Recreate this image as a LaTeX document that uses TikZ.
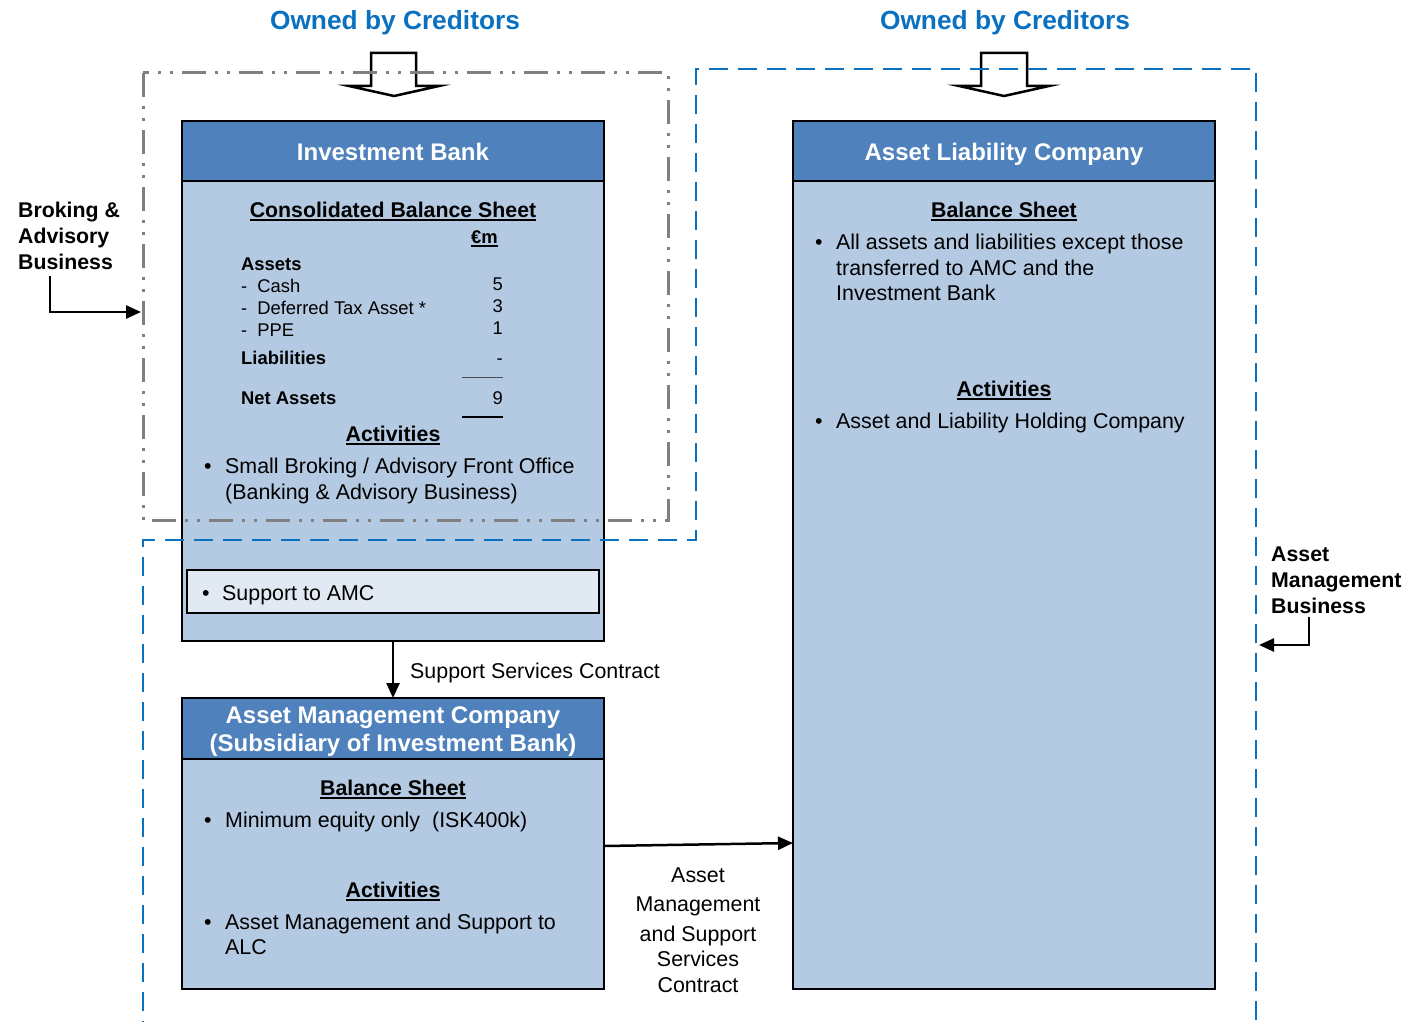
\documentclass[tikz,border=0pt]{standalone}
\usepackage{fontspec}
\setmainfont{Liberation Sans}
\usetikzlibrary{arrows.meta}
\definecolor{hdrblue}{HTML}{4F81BD}
\definecolor{bodyblue}{HTML}{B4C9E2}
\definecolor{innerblue}{HTML}{E1E9F3}
\definecolor{titleblue}{HTML}{0A70C0}
\definecolor{dashblue}{HTML}{0A70C0}
\definecolor{dashgray}{HTML}{808080}
\newcommand{\myul}[1]{\setbox0\hbox{#1}\rlap{\rule[-3.6pt]{\wd0}{2pt}}\box0}
\tikzset{
  boxbody/.style={draw=black, line width=2.5pt, fill=bodyblue, inner sep=0pt, outer sep=0pt, anchor=north west},
  boxhead/.style={draw=black, line width=2.5pt, fill=hdrblue, inner sep=0pt, outer sep=0pt, anchor=north west},
  innerbox/.style={draw=black, line width=2.5pt, fill=innerblue, inner sep=0pt, outer sep=0pt, anchor=north west},
  txt/.style={inner sep=0pt, anchor=base west, font=\fontsize{21.4}{25}\selectfont},
  txtc/.style={inner sep=0pt, anchor=base, font=\fontsize{21.4}{25}\selectfont},
  boldl/.style={inner sep=0pt, anchor=base west, font=\fontsize{21.3}{25}\selectfont\bfseries},
  boldc/.style={inner sep=0pt, anchor=base, font=\fontsize{21.3}{25}\selectfont\bfseries},
  small/.style={inner sep=0pt, anchor=base west, font=\fontsize{18.4}{22}\selectfont},
  smallb/.style={inner sep=0pt, anchor=base west, font=\fontsize{18.4}{22}\selectfont\bfseries},
  smallr/.style={inner sep=0pt, anchor=base east, font=\fontsize{18.4}{22}\selectfont},
  headtxt/.style={inner sep=0pt, anchor=base, text=white, font=\fontsize{24}{28}\selectfont\bfseries},
  titletxt/.style={inner sep=0pt, anchor=base, text=titleblue, font=\fontsize{26.3}{30}\selectfont\bfseries},
  conn/.style={draw=black, line width=2.5pt, -{Triangle[length=15pt,width=13pt]}},
  blockarrow/.style={draw=black, line width=2.5pt, line join=miter},
  graybound/.style={draw=dashgray, line width=3pt, dash pattern=on 24pt off 9pt on 3pt off 9pt on 3pt off 9pt},
  bluebound/.style={draw=dashblue, line width=2.5pt, dash pattern=on 19pt off 10pt}
}
\begin{document}
\begin{tikzpicture}[x=1pt,y=-1pt]
\useasboundingbox[fill=white] (0,0) rectangle (1406,1022);

% titles
\node[titletxt] (t1) at (395,30) {Owned by Creditors};
\node[titletxt] (t2) at (1005,30) {Owned by Creditors};

% block arrows
\draw[blockarrow] (371,53) -- (416,53) -- (416,86) -- (439,86) -- (394,96) -- (349,86) -- (371,86) -- cycle;
\draw[blockarrow] (981,53) -- (1027,53) -- (1027,86) -- (1049,86) -- (1004,96) -- (959,86) -- (981,86) -- cycle;

% Investment Bank
\node[boxbody, minimum width=422pt, minimum height=520pt] (ib) at (182,121) {};
\node[boxhead, minimum width=422pt, minimum height=60pt] (ibh) at (182,121) {};
\node[headtxt] (ibht) at (393,160.5) {Investment Bank};
\node[boldc] (ibbs) at (393,217.5) {\myul{Consolidated Balance Sheet}};
\node[smallb] (ibem) at (471,243.5) {\myul{€m}};
\node[smallb] (ibas) at (241,270.5) {Assets};
\node[small] (ib1) at (241,292.5) {-\hspace{10pt}Cash};
\node[small] (ib2) at (241,314.5) {-\hspace{10pt}Deferred Tax Asset *};
\node[small] (ib3) at (241,336.5) {-\hspace{10pt}PPE};
\node[smallr] (ibv1) at (503,290.5) {5};
\node[smallr] (ibv2) at (503,312.5) {3};
\node[smallr] (ibv3) at (503,334.5) {1};
\node[smallb] (ibli) at (241,364.5) {Liabilities};
\node[smallr] (ibv4) at (503,364.5) {-};
\draw[line width=1pt, black!70] (462,377) -- (503,377);
\node[smallb] (ibna) at (241,404.5) {Net Assets};
\node[smallr] (ibv5) at (503,404.5) {9};
\draw[line width=2pt, black] (462,417) -- (503,417);
\node[boldc] (ibact) at (393,441.5) {\myul{Activities}};
\node[txt] (ibb1) at (204,473.5) {\textbullet};
\node[txt] (iba1) at (225,473.5) {Small Broking / Advisory Front Office};
\node[txt] (iba2) at (225,499.5) {(Banking \& Advisory Business)};
\node[innerbox, minimum width=412pt, minimum height=43pt] (ibs) at (187,570) {};
\node[txt] (ibsb) at (202,600.5) {\textbullet};
\node[txt] (ibst) at (222,600.5) {Support to AMC};

% Asset Liability Company
\node[boxbody, minimum width=422pt, minimum height=868pt] (alc) at (793,121) {};
\node[boxhead, minimum width=422pt, minimum height=60pt] (alch) at (793,121) {};
\node[headtxt] (alcht) at (1004,160.5) {Asset Liability Company};
\node[boldc] (alcbs) at (1004,217.5) {\myul{Balance Sheet}};
\node[txt] (alcb1) at (815,249.5) {\textbullet};
\node[txt] (alc1) at (836,249.5) {All assets and liabilities except those};
\node[txt] (alc2) at (836,275.5) {transferred to AMC and the};
\node[txt] (alc3) at (836,300.5) {Investment Bank};
\node[boldc] (alcact) at (1004,396.5) {\myul{Activities}};
\node[txt] (alcb2) at (815,428.5) {\textbullet};
\node[txt] (alc4) at (836,428.5) {Asset and Liability Holding Company};

% Asset Management Company
\node[boxbody, minimum width=422pt, minimum height=291pt] (amc) at (182,698) {};
\node[boxhead, minimum width=422pt, minimum height=61pt] (amch) at (182,698) {};
\node[headtxt] (amcht1) at (393,723.5) {Asset Management Company};
\node[headtxt] (amcht2) at (393,751.5) {(Subsidiary of Investment Bank)};
\node[boldc] (amcbs) at (393,795.5) {\myul{Balance Sheet}};
\node[txt] (amcb1) at (204,827.5) {\textbullet};
\node[txt] (amc1) at (225,827.5) {Minimum equity only\hspace{6pt} (ISK400k)};
\node[boldc] (amcact) at (393,897.5) {\myul{Activities}};
\node[txt] (amcb2) at (204,929.5) {\textbullet};
\node[txt] (amc2) at (225,929.5) {Asset Management and Support to};
\node[txt] (amc3) at (225,954.5) {ALC};

% boundaries
\draw[graybound] (143,73) rectangle (668,520);
\draw[bluebound] (143,1040) -- (143,540) -- (696,540) -- (696,69) -- (1256,69) -- (1256,1040);

% connectors
\draw[conn] (ib.south) -- (amc.north);
\node[txt] (ssc) at (410,678.5) {Support Services Contract};
\coordinate (amcout) at (604,846);
\coordinate (alcin) at (793,843);
\draw[conn] (amcout) -- (alcin);
\node[txtc] (ams1) at (698,882.5) {Asset};
\node[txtc] (ams2) at (698,911.5) {Management};
\node[txtc] (ams3) at (698,941.5) {and Support};
\node[txtc] (ams4) at (698,966.5) {Services};
\node[txtc] (ams5) at (698,992.5) {Contract};

% side labels
\node[boldl] (bro1) at (18,217.5) {Broking \&};
\node[boldl] (bro2) at (18,243.5) {Advisory};
\node[boldl] (bro3) at (18,269.5) {Business};
\coordinate (brostart) at (50,276);
\coordinate (broend) at (141,312);
\draw[conn] (brostart) |- (broend);
\node[boldl] (amb1) at (1271,561.5) {Asset};
\node[boldl] (amb2) at (1271,587.5) {Management};
\node[boldl] (amb3) at (1271,613.5) {Business};
\coordinate (ambstart) at (1309,617);
\coordinate (ambend) at (1259,645);
\draw[conn] (ambstart) |- (ambend);
\end{tikzpicture}
\end{document}
